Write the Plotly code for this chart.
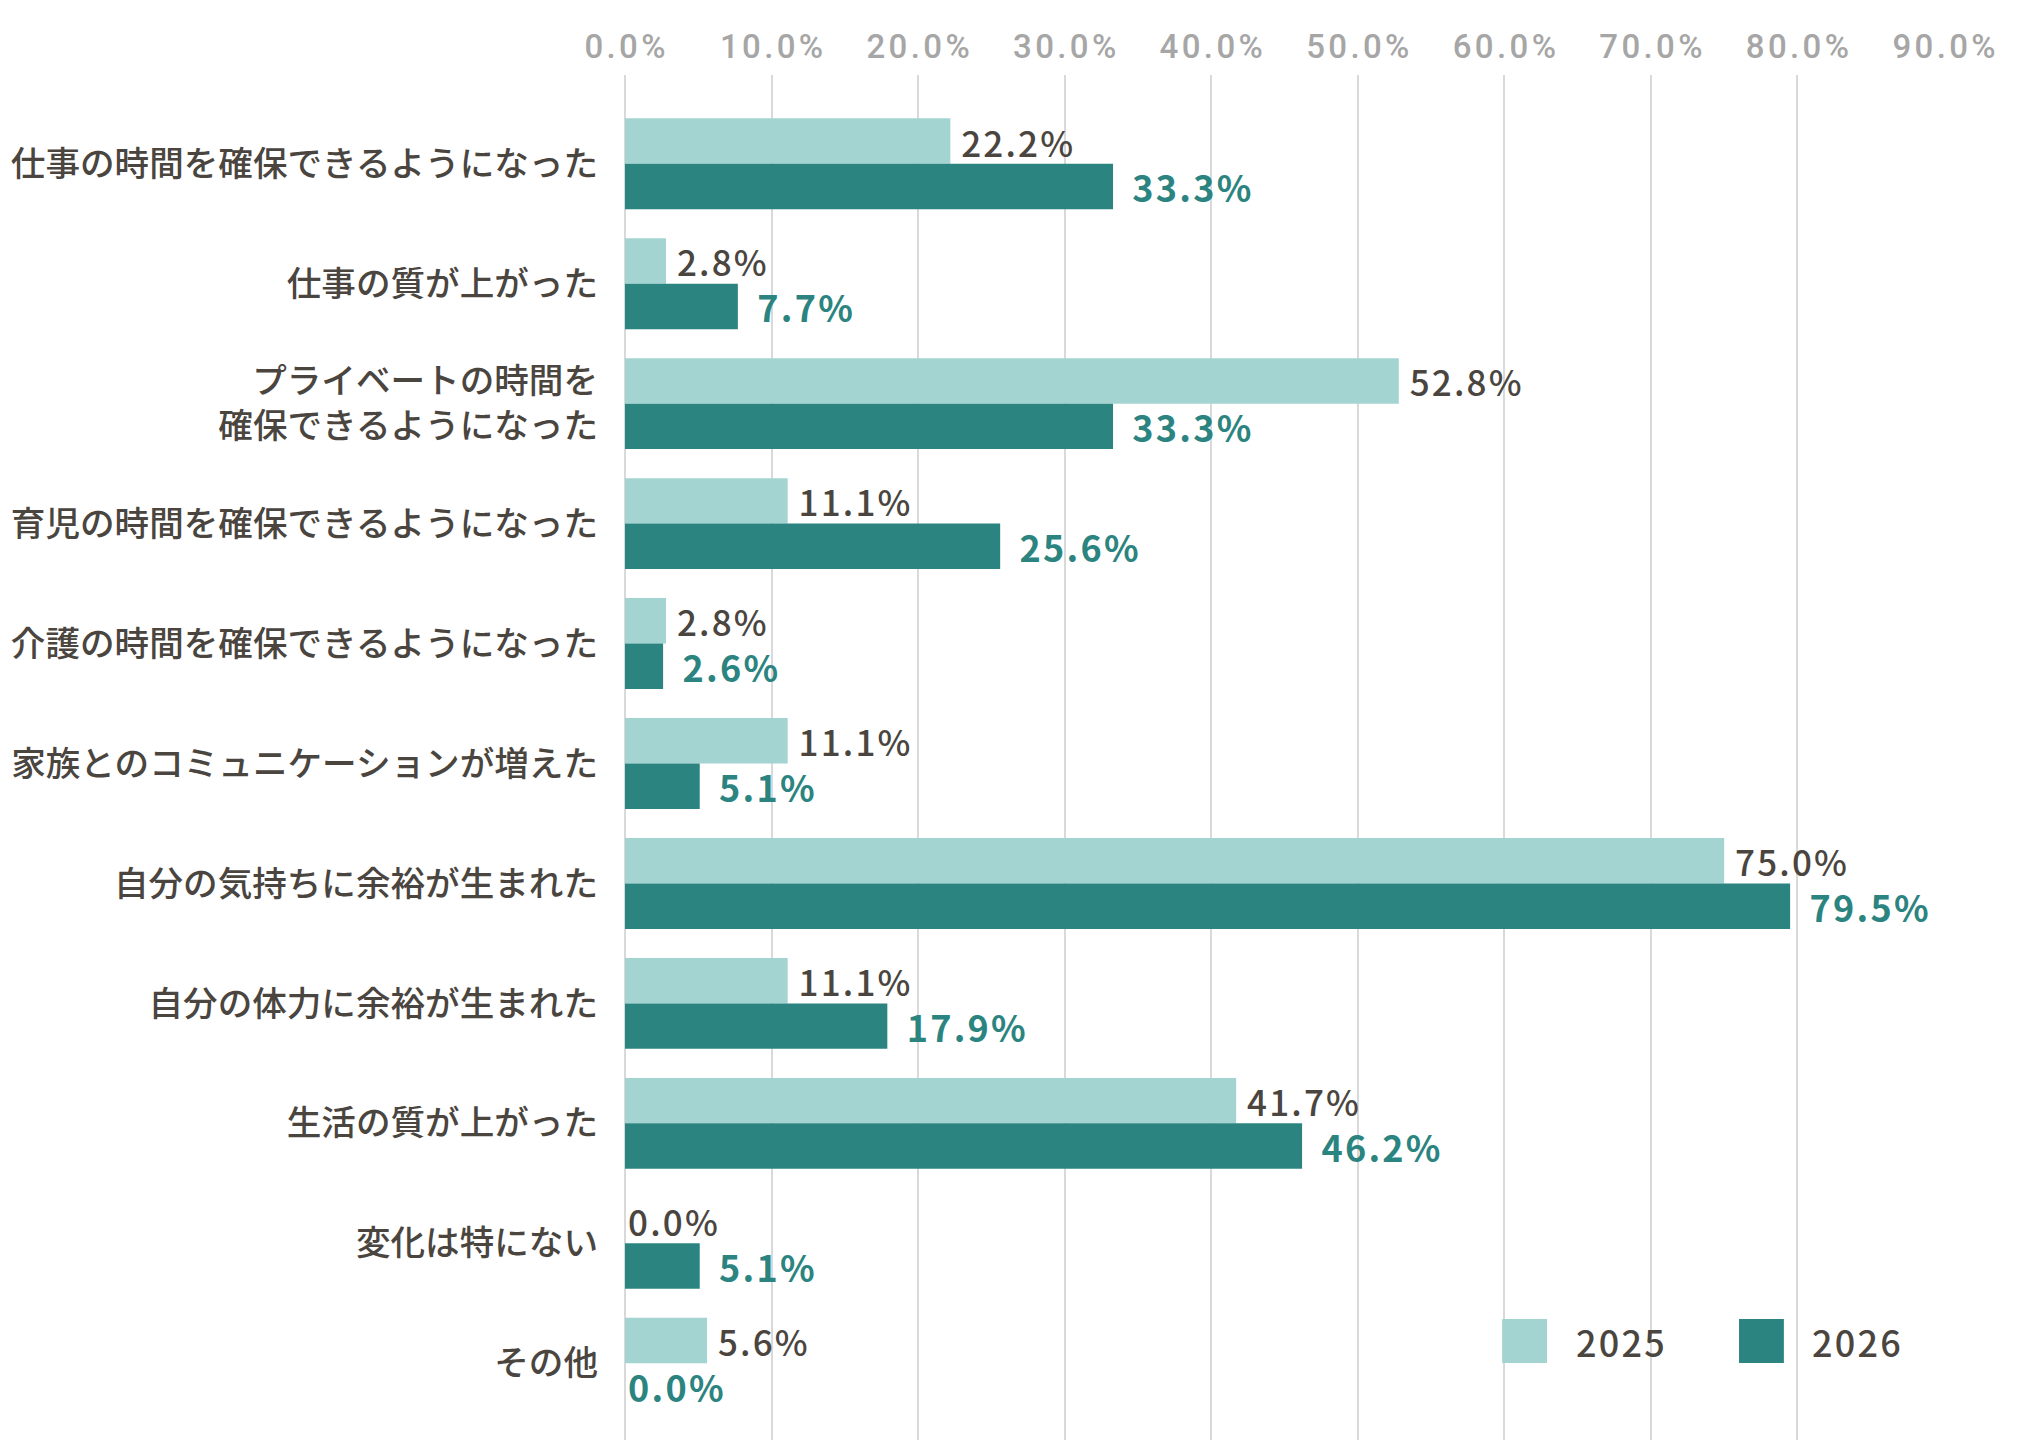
import plotly.graph_objects as go

categories = [
    "仕事の時間を確保できるようになった",
    "仕事の質が上がった",
    "プライベートの時間を<br>確保できるようになった",
    "育児の時間を確保できるようになった",
    "介護の時間を確保できるようになった",
    "家族とのコミュニケーションが増えた",
    "自分の気持ちに余裕が生まれた",
    "自分の体力に余裕が生まれた",
    "生活の質が上がった",
    "変化は特にない",
    "その他",
]
values_2025 = [22.2, 2.8, 52.8, 11.1, 2.8, 11.1, 75.0, 11.1, 41.7, 0.0, 5.6]
values_2026 = [33.3, 7.7, 33.3, 25.6, 2.6, 5.1, 79.5, 17.9, 46.2, 5.1, 0.0]
series_names = ["2025", "2026"]
tick_values = [0, 10, 20, 30, 40, 50, 60, 70, 80, 90]
tick_labels = ["0.0%", "10.0%", "20.0%", "30.0%", "40.0%", "50.0%", "60.0%", "70.0%", "80.0%", "90.0%"]

LIGHT = "#A3D4D1"
DARK = "#2B8480"
TEXT = "#4A453F"
GRID = "#D9D9D9"
JP = "Noto Sans CJK JP"
NBSP = "\u00a0"
HAIR = "\u200a"


def spaced(s):
    return HAIR.join(s)


def labels(vals, pad):
    return [(NBSP * pad if v > 0 else "") + spaced(f"{v:.1f}%") for v in vals]


fig = go.Figure()
fig.add_trace(go.Bar(
    y=categories, x=values_2025, orientation="h", name=series_names[0],
    marker=dict(color=LIGHT, line=dict(width=0)),
    text=labels(values_2025, 1), textposition="outside", constraintext="none",
    cliponaxis=False,
    textfont=dict(family=JP, size=35, color=TEXT, weight=500),
))
fig.add_trace(go.Bar(
    y=categories, x=values_2026, orientation="h", name=series_names[1],
    marker=dict(color=DARK, line=dict(width=0)),
    text=labels(values_2026, 2), textposition="outside", constraintext="none",
    cliponaxis=False,
    textfont=dict(family=JP, size=36, color=DARK, weight=600),
))

fig.update_layout(
    width=2038, height=1440,
    margin=dict(l=625, r=94, t=75, b=0, pad=0),
    paper_bgcolor="white", plot_bgcolor="white",
    barmode="group", bargap=0.242, bargroupgap=0,
    showlegend=False,
    font=dict(family=JP, color=TEXT),
    xaxis=dict(
        side="top", range=[0, 90], tickvals=tick_values,
        ticktext=[spaced(t) for t in tick_labels],
        showgrid=True, gridcolor=GRID, gridwidth=2,
        zeroline=True, zerolinecolor=GRID, zerolinewidth=2,
        showline=False, ticks="", ticklabelstandoff=9,
        tickfont=dict(family="Roboto", size=33, color="#A6A6A6", weight=500),
        fixedrange=True,
    ),
    yaxis=dict(
        categoryorder="array", categoryarray=categories,
        range=[10.64, -0.74],
        showgrid=False, zeroline=False, showline=False, ticks="",
        ticklabelstandoff=26,
        tickfont=dict(family=JP, size=34.6, color=TEXT, weight=500),
    ),
)

# custom legend (large square swatches)
legend_items = [
    (series_names[0], LIGHT, 0.665, 0.7195),
    (series_names[1], DARK, 0.8446, 0.8984),
]
for name, color, x0, tx in legend_items:
    fig.add_shape(type="rect", xref="paper", yref="paper",
                  x0=x0, x1=x0 + 0.034, y0=0.0564, y1=0.0886,
                  fillcolor=color, line=dict(width=0), layer="above")
    fig.add_annotation(xref="paper", yref="paper", x=tx, y=0.0725,
                       text=spaced(name), showarrow=False, xanchor="left", yanchor="middle",
                       font=dict(family=JP, size=36, color=TEXT, weight=500))

fig.write_html("out.html")
